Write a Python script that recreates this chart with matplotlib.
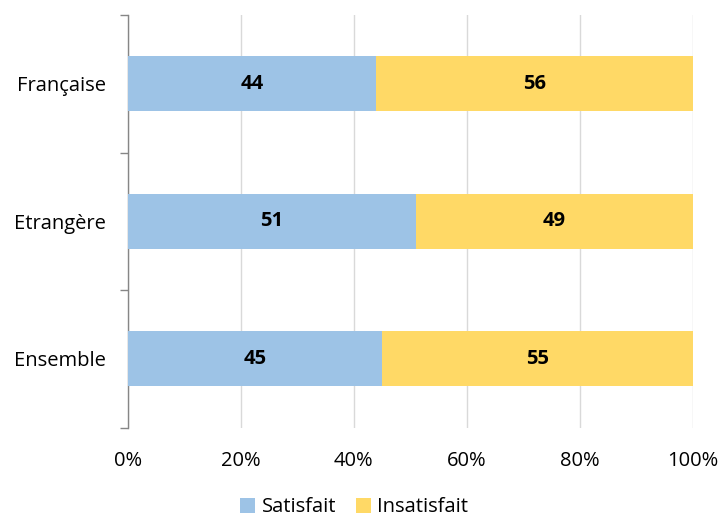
import matplotlib
matplotlib.use("Agg")
import matplotlib.pyplot as plt
import numpy as np

categories = ["Française", "Etrangère", "Ensemble"]
satisfait = [44, 51, 45]
insatisfait = [56, 49, 55]
series_names = ["Satisfait", "Insatisfait"]
xtick_labels = ["0%", "20%", "40%", "60%", "80%", "100%"]

plt.rcParams['font.family'] = ['Open Sans', 'DejaVu Sans']

fig = plt.figure(figsize=(7.23, 5.21), dpi=100)
ax = fig.add_axes([0.177, 0.179, 0.781, 0.792])

blue = "#9DC3E6"
yellow = "#FFD966"
y = np.arange(len(categories))
h = 0.4
ax.barh(y, satisfait, height=h, color=blue, label=series_names[0], zorder=3)
ax.barh(y, insatisfait, left=satisfait, height=h, color=yellow, label=series_names[1], zorder=3)

for i in range(len(categories)):
    ax.text(satisfait[i] / 2, y[i], str(satisfait[i]), ha="center", va="center",
            fontsize=14.5, fontweight="bold", color="black", zorder=4)
    ax.text(satisfait[i] + insatisfait[i] / 2, y[i], str(insatisfait[i]), ha="center", va="center",
            fontsize=14.5, fontweight="bold", color="black", zorder=4)

ax.set_xlim(0, 100)
ax.set_ylim(len(categories) - 0.5, -0.5)
ax.set_xticks(np.linspace(0, 100, 6))
ax.set_xticklabels(xtick_labels, fontsize=14.5)
ax.tick_params(axis="x", length=0, pad=17)
ax.xaxis.grid(True, color="#D9D9D9", linewidth=1, zorder=0)

ax.set_yticks(np.arange(-0.5, len(categories), 1.0))
ax.set_yticklabels([])
ax.tick_params(axis="y", which="major", length=6, color="#868686", width=1)
ax.set_yticks(y, minor=True)
ax.set_yticklabels(categories, minor=True, fontsize=14.5)
ax.tick_params(axis="y", which="minor", length=0, pad=16)

for s in ["top", "right", "bottom"]:
    ax.spines[s].set_visible(False)
ax.spines["left"].set_color("#868686")
ax.spines["left"].set_linewidth(1)

fig.legend(loc="lower center", bbox_to_anchor=(0.49, -0.028), ncol=2, frameon=False,
           fontsize=14.5, handlelength=0.75, handleheight=0.75, handletextpad=0.3, columnspacing=1.0)

fig.savefig("out.png", dpi=100)
